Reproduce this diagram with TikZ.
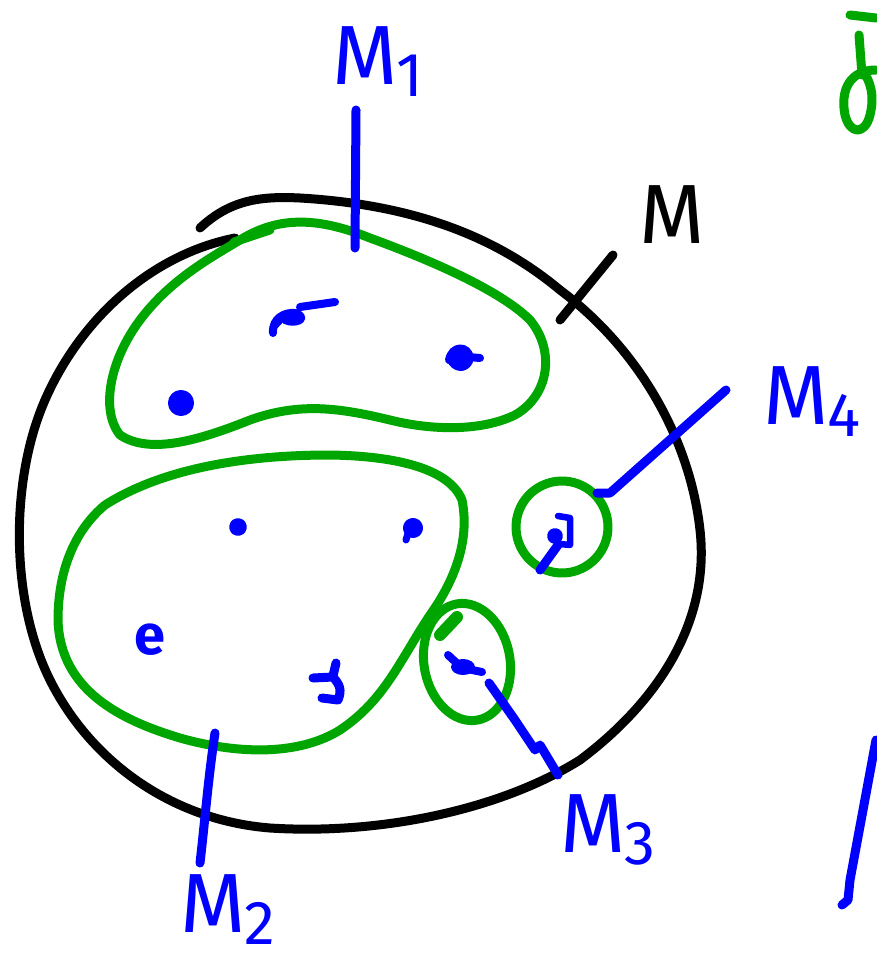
\documentclass[tikz,border=0pt]{standalone}
\usepackage{fontspec}
\setmainfont{Fira Sans}
\definecolor{pgreen}{RGB}{0,166,0}
\definecolor{pblue}{RGB}{0,0,255}
\tikzset{
  pen/.style={line width=9pt, line cap=round, line join=round},
  blackpen/.style={pen, black, line width=9pt},
  greenpen/.style={pen, pgreen},
  bluepen/.style={pen, pblue},
  dotmark/.style={pen, pblue, fill=pblue, line width=8pt},
  lab/.style={inner sep=0pt, font=\fontsize{84}{84}\selectfont},
}
\newcommand{\Msub}[1]{M\kern-2pt\raisebox{-12pt}{\fontsize{62}{62}\selectfont #1}}
\begin{document}
\begin{tikzpicture}[x=1pt,y=-1pt]
\useasboundingbox (0,0) rectangle (876,968);
% big set M
\draw[blackpen] (200,228) .. controls (230,200) and (260,196) .. (300,198)
  .. controls (420,205) and (500,240) .. (560,290)
  .. controls (640,350) and (690,440) .. (700,530)
  .. controls (710,620) and (660,700) .. (580,760)
  .. controls (500,810) and (380,835) .. (270,828)
  .. controls (170,820) and (90,760) .. (50,680)
  .. controls (10,600) and (10,480) .. (45,400)
  .. controls (80,320) and (150,255) .. (235,238);
\coordinate (mtip) at (560,320);
\coordinate (mend) at (613,255);
\draw[blackpen] (mtip) -- (mend);
\node[lab, black] (mlab) at (672,215) {M};
% M1
\draw[greenpen] (240,240) .. controls (280,215) and (320,218) .. (370,238)
  .. controls (430,260) and (500,290) .. (530,320)
  .. controls (555,350) and (550,395) .. (515,415)
  .. controls (480,432) and (430,430) .. (390,420)
  .. controls (340,408) and (300,402) .. (250,420)
  .. controls (200,440) and (150,455) .. (120,435)
  .. controls (100,410) and (110,360) .. (140,320)
  .. controls (170,280) and (210,258) .. (240,240);
\draw[greenpen] (234,242) -- (270,230);
\coordinate (m1top) at (356,110);
\coordinate (m1bot) at (355,248);
\draw[bluepen] (m1top) -- (m1bot);
\node[lab, pblue] (m1lab) at (378,62) {\Msub{1}};
% M2
\draw[greenpen] (105,505) .. controls (160,470) and (240,455) .. (330,455)
  .. controls (400,456) and (450,470) .. (462,500)
  .. controls (470,540) and (455,580) .. (430,615)
  .. controls (400,660) and (385,700) .. (340,730)
  .. controls (300,755) and (240,755) .. (180,738)
  .. controls (120,720) and (60,690) .. (58,620)
  .. controls (58,570) and (75,530) .. (105,505);
\coordinate (m2top) at (215,733);
\coordinate (m2bot) at (200,863);
\draw[bluepen] (m2top) .. controls (208,780) and (205,820) .. (m2bot);
\node[lab, pblue] (m2lab) at (228,910) {\Msub{2}};
% M4
\draw[greenpen, rotate around={-15:(562,527)}] (562,527) ellipse [x radius=46, y radius=46];
\coordinate (m4in) at (540,570);
\coordinate (m4a) at (597,493);
\coordinate (m4b) at (610,493);
\coordinate (m4c) at (726,390);
\draw[bluepen] (m4a) -- (m4b) -- (m4c);
\draw[bluepen] (m4in) -- (558,545);
\draw[dotmark] (555,536) circle[radius=4];
\draw[bluepen, line width=6.5pt] (558,516) -- (570,518) -- (570,545) -- (560,544);
\node[lab, pblue] (m4lab) at (812,402) {\Msub{4}};
% M3
\draw[greenpen, rotate around={10:(467,662)}] (467,662) ellipse [x radius=43, y radius=59];
\draw[greenpen, line width=12pt] (440,635) -- (457,617);
\coordinate (m3a) at (489,683);
\coordinate (m3b) at (558,775);
\draw[bluepen] (m3a) -- (515,720) -- (535,750) -- (540,745) -- (m3b);
\draw[dotmark] (448,655) -- (462,668) -- (482,672);
\fill[pblue] (463,667) ellipse [x radius=12, y radius=8];
\node[lab, pblue] (m3lab) at (608,830) {\Msub{3}};
% elements of M1
\draw[dotmark] (273,333) .. controls (272,318) and (285,312) .. (295,313) .. controls (310,318) and (295,325) .. (285,320) (300,307) -- (335,302);
\draw[dotmark] (181,403) circle[radius=9];
\draw[dotmark] (449,360) .. controls (452,345) and (468,345) .. (470,358) .. controls (468,368) and (458,370) .. (452,362) (468,357) -- (480,358);
% elements of M2
\draw[dotmark] (238,527) circle[radius=5];
\draw[dotmark] (413,528) circle[radius=6];
\draw[bluepen, line width=7pt] (409,530) -- (406,540);
\node[lab, pblue, font=\fontsize{56}{56}\selectfont\bfseries] (e) at (150,640) {e};
\draw[bluepen] (336,663) -- (333,676) (313,678) -- (333,677) .. controls (340,685) and (342,690) .. (338,700) -- (322,698);
% fragments at the right edge
\draw[greenpen] (850,15) -- (876,18);
\draw[greenpen] (859,35) -- (862,75);
\draw[greenpen] (876,70) .. controls (850,70) and (840,90) .. (845,115) .. controls (850,135) and (865,135) .. (870,115) .. controls (875,95) and (870,80) .. (862,70);
\draw[bluepen] (876,740) -- (850,880) -- (848,900) -- (842,905);
\end{tikzpicture}
\end{document}
